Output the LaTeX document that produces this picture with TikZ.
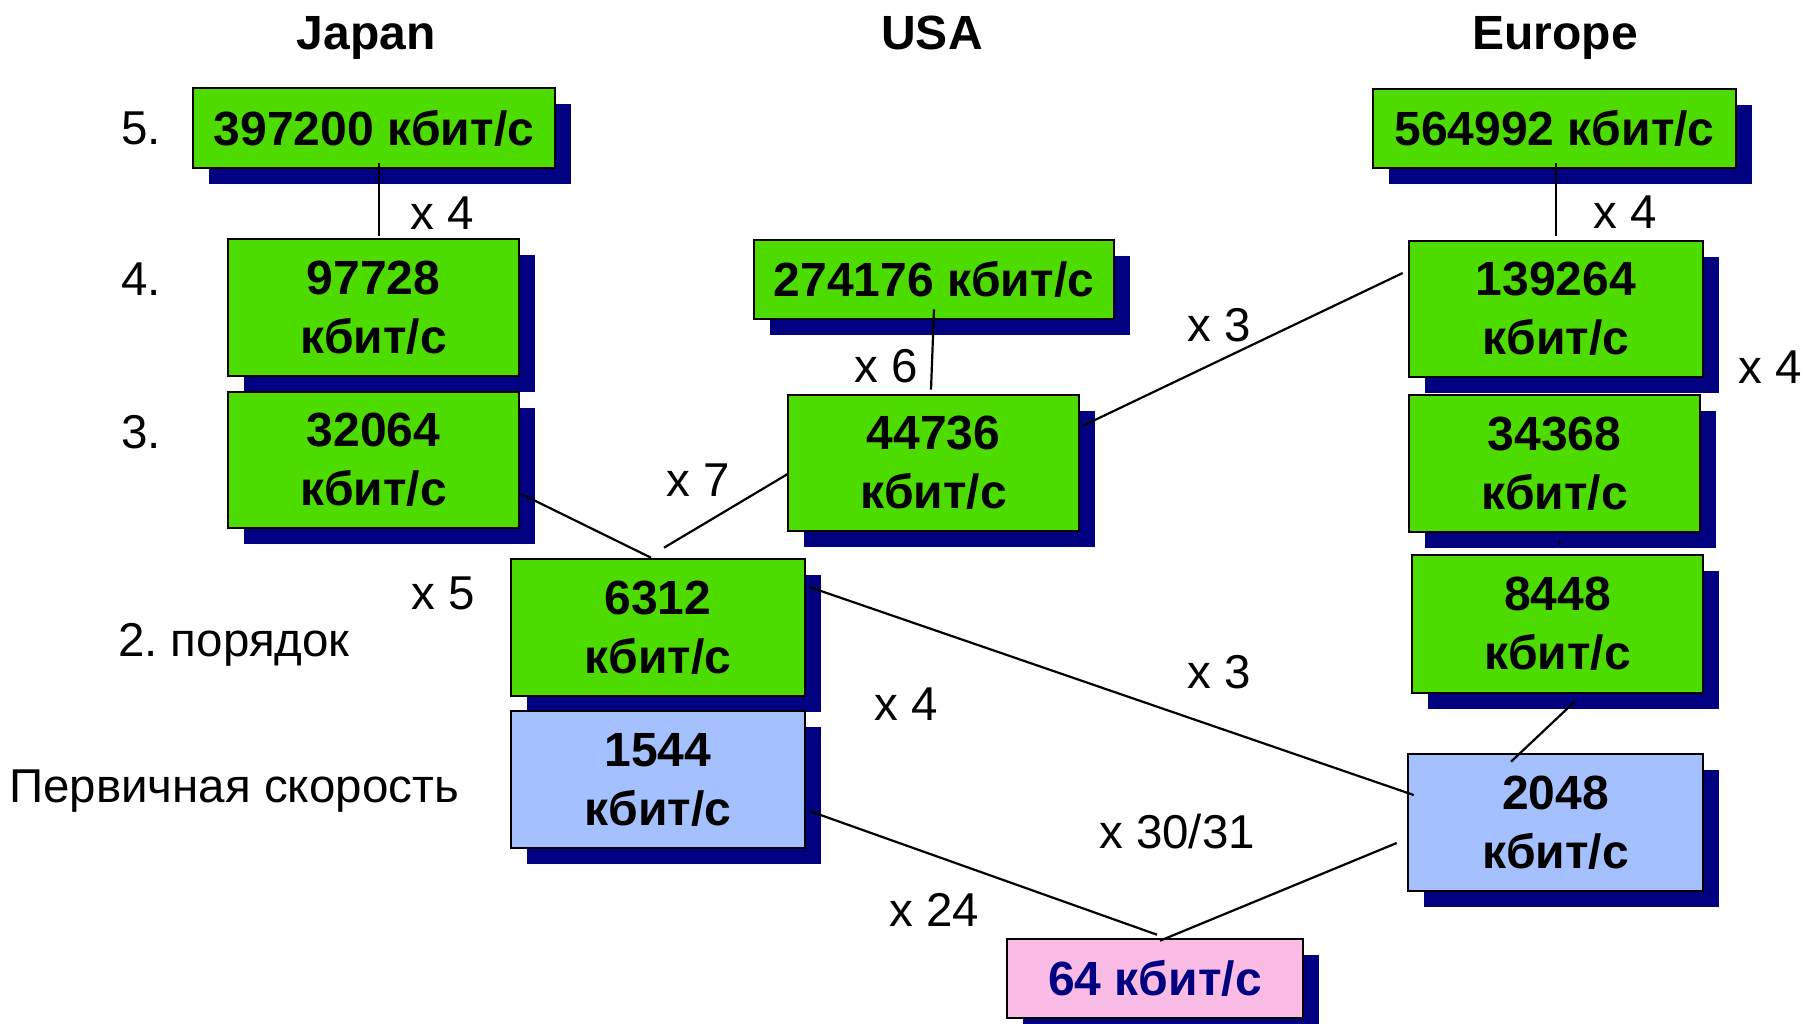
\documentclass[tikz,border=0pt]{standalone}
\usepackage{fontspec}
\setmainfont{Liberation Sans}
\usetikzlibrary{shadows,calc}
\definecolor{boxgreen}{RGB}{78,220,0}
\definecolor{boxblue}{RGB}{164,192,255}
\definecolor{boxpink}{RGB}{250,188,228}
\definecolor{shadownavy}{RGB}{0,0,128}
\frenchspacing
\begin{document}
\begin{tikzpicture}[x=1pt,y=-1pt,
  ratebox/.style={draw=black, line width=2.6pt, inner sep=0pt, align=center,
    font=\fontsize{48}{59}\selectfont\bfseries,
    general shadow={draw=none, fill=shadownavy, shadow xshift=16pt, shadow yshift=-16pt}},
  greenbox/.style={ratebox, fill=boxgreen},
  bluebox/.style={ratebox, fill=boxblue},
  pinkbox/.style={ratebox, fill=boxpink, text=shadownavy},
  lbl/.style={font=\fontsize{47.5}{56}\selectfont, inner sep=0pt, anchor=base west},
  hdr/.style={font=\fontsize{48}{56}\selectfont\bfseries, inner sep=0pt, anchor=base},
  link/.style={draw=black, line width=2.2pt}]
\useasboundingbox (0,0) rectangle (1804,1023);

% headers
\node[hdr] (hjap) at (366,49) {Japan};
\node[hdr] (husa) at (932,49) {USA};
\node[hdr] (heur) at (1555,49) {Europe};

% level labels
\node[lbl] (l5) at (121,144) {5.};
\node[lbl] (l4) at (121,295) {4.};
\node[lbl] (l3) at (121,448) {3.};
\node[lbl] (l2) at (118,656) {2. порядок};
\node[lbl] (l1) at (9,802) {Первичная скорость};

% boxes
\node[greenbox, minimum width=362pt, minimum height=80pt] (j5) at (374,128) {397200 кбит/с};
\node[greenbox, minimum width=291pt, minimum height=137pt] (j4) at (373.5,307.5) {97728\\кбит/с};
\node[greenbox, minimum width=291pt, minimum height=136pt] (j3) at (373.5,460) {32064\\кбит/с};

\node[greenbox, minimum width=360pt, minimum height=79pt] (u4) at (934,279.5) {274176 кбит/с};
\node[greenbox, minimum width=291pt, minimum height=136pt] (u3) at (933.5,463) {44736\\кбит/с};
\node[greenbox, minimum width=294pt, minimum height=137pt] (u2) at (658,627.5) {6312\\кбит/с};
\node[bluebox, minimum width=294pt, minimum height=137pt] (u1) at (658,779.5) {1544\\кбит/с};

\node[greenbox, minimum width=363pt, minimum height=79pt] (e5) at (1554.5,128.5) {564992 кбит/с};
\node[greenbox, minimum width=294pt, minimum height=136pt] (e4) at (1556,309) {139264\\кбит/с};
\node[greenbox, minimum width=291pt, minimum height=137pt] (e3) at (1554.5,463.5) {34368\\кбит/с};
\node[greenbox, minimum width=291pt, minimum height=138pt] (e2) at (1557.5,624) {8448\\кбит/с};
\node[bluebox, minimum width=295pt, minimum height=137pt] (e1) at (1555.5,822.5) {2048\\кбит/с};

\node[pinkbox, minimum width=296pt, minimum height=79pt] (b64) at (1155,978.5) {64 кбит/с};

% multiplier labels
\node[lbl] (m1) at (410,229) {x 4};
\node[lbl] (m2) at (854,382) {x 6};
\node[lbl] (m3) at (666,496) {x 7};
\node[lbl] (m4) at (411,609) {x 5};
\node[lbl] (m5) at (1187,341) {x 3};
\node[lbl] (m6) at (1593,228) {x 4};
\node[lbl] (m7) at (1738,383) {x 4};
\node[lbl] (m8) at (1187,688) {x 3};
\node[lbl] (m9) at (874,720) {x 4};
\node[lbl] (m10) at (1099,848) {x 30/31};
\node[lbl] (m11) at (889,926) {x 24};

% connectors
\draw[link] ($(j5.south)+(5,-6)$) -- ($(j4.north)+(5.5,-2)$);
\draw[link] ($(u4.south)+(0,-11)$) -- ($(u3.north)+(-2.5,-4)$);
\draw[link] ($(j3.east)+(1,34)$) -- ($(u2.north)+(-7,0)$);
\draw[link] ($(u3.west)+(1,11)$) -- ($(u2.north)+(6,-10)$);
\draw[link] ($(u3.east)+(2,-37)$) -- ($(e4.west)+(-5,-36)$);
\draw[link] ($(e5.south)+(1.5,-6)$) -- ($(e4.north)+(0,-4)$);
\draw[link] ($(e3.south)+(4.5,7)$) -- ($(e2.north)+(1.5,-9)$);
\draw[link] ($(e2.south)+(17.5,7)$) -- ($(e1.north)+(-44.5,9)$);
\draw[link] ($(u2.east)+(3,-40.5)$) -- ($(e1.west)+(7,-27.5)$);
\draw[link] ($(u1.east)+(3,31.5)$) -- ($(b64.north)+(2,-3)$);
\draw[link] ($(e1.west)+(-10,20.5)$) -- ($(b64.north)+(5,3)$);
\end{tikzpicture}
\end{document}
